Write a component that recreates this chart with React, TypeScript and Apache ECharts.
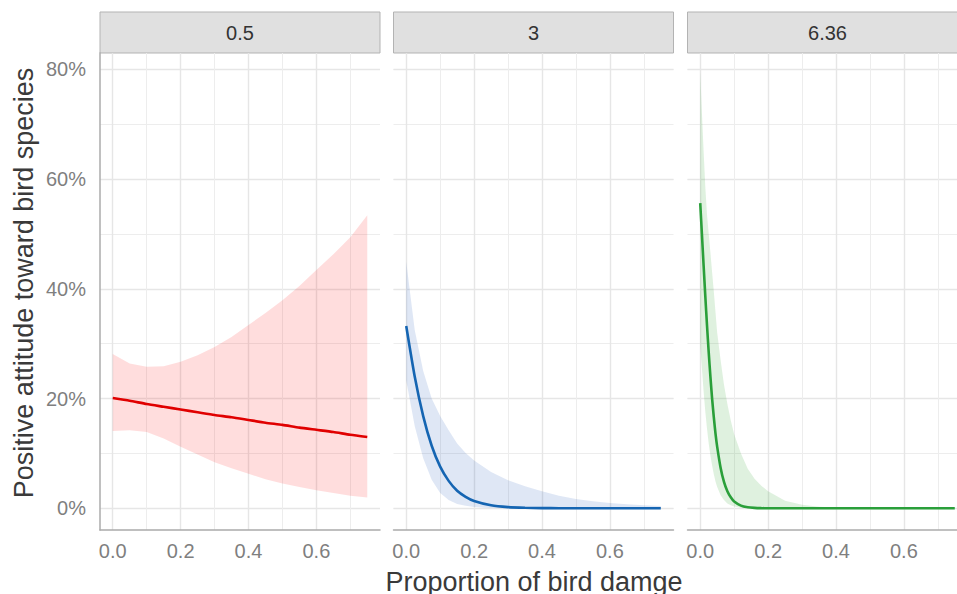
import React, { useEffect, useRef } from 'react';
import * as echarts from 'echarts';

// ---- data ----
const facetLabels = ['0.5', '3', '6.36'];
const xTickLabels = ['0.0', '0.2', '0.4', '0.6'];
const yTickLabels = ['0%', '20%', '40%', '60%', '80%'];

// panel "0.5"
const x1 = [0, 0.05, 0.1, 0.15, 0.2, 0.25, 0.3, 0.35, 0.4, 0.45, 0.5, 0.55, 0.6, 0.65, 0.7, 0.75];
const mean1 = [0.201, 0.196, 0.19, 0.185, 0.18, 0.175, 0.17, 0.166, 0.161, 0.156, 0.152, 0.147, 0.143, 0.139, 0.134, 0.13];
const lower1 = [0.141, 0.142, 0.139, 0.127, 0.112, 0.098, 0.084, 0.073, 0.063, 0.053, 0.045, 0.039, 0.033, 0.028, 0.023, 0.0195];
const upper1 = [0.281, 0.264, 0.258, 0.259, 0.267, 0.279, 0.294, 0.312, 0.334, 0.356, 0.379, 0.405, 0.434, 0.463, 0.494, 0.534];

// panel "3"
const x2 = [0, 0.025, 0.05, 0.075, 0.1, 0.125, 0.15, 0.175, 0.2, 0.25, 0.3, 0.35, 0.4, 0.45, 0.5, 0.55, 0.6, 0.65, 0.7, 0.75];
const mean2 = [0.332, 0.24, 0.168, 0.114, 0.076, 0.05, 0.032, 0.021, 0.0134, 0.0055, 0.0022, 0.0009, 0.0004, 0.00015, 0, 0, 0, 0, 0, 0];
const lower2 = [0.233, 0.15, 0.091, 0.052, 0.028, 0.015, 0.008, 0.0045, 0.0025, 0.0007, 0.0002, 0, 0, 0, 0, 0, 0, 0, 0, 0];
const upper2 = [0.449, 0.325, 0.25, 0.2, 0.168, 0.142, 0.118, 0.101, 0.087, 0.066, 0.051, 0.04, 0.031, 0.023, 0.017, 0.013, 0.0095, 0.0072, 0.0055, 0.004];

// panel "6.36"
const x3 = [0, 0.005, 0.01, 0.015, 0.02, 0.025, 0.03, 0.035, 0.04, 0.045, 0.05, 0.06, 0.07, 0.08, 0.09, 0.1, 0.12, 0.14, 0.16, 0.18, 0.2, 0.25, 0.3, 0.35, 0.4, 0.5, 0.6, 0.75];
const mean3 = [0.556, 0.499, 0.442, 0.386, 0.333, 0.284, 0.24, 0.2, 0.166, 0.136, 0.112, 0.074, 0.048, 0.031, 0.02, 0.0124, 0.005, 0.002, 0.0008, 0.0003, 0.0001, 0, 0, 0, 0, 0, 0, 0];
const lower3 = [0.3, 0.255, 0.213, 0.176, 0.145, 0.118, 0.096, 0.078, 0.062, 0.049, 0.039, 0.024, 0.015, 0.009, 0.0055, 0.0033, 0.0012, 0.0004, 0.0001, 0, 0, 0, 0, 0, 0, 0, 0, 0];
const upper3 = [0.795, 0.72, 0.65, 0.585, 0.535, 0.5, 0.466, 0.43, 0.395, 0.357, 0.32, 0.27, 0.225, 0.19, 0.16, 0.135, 0.1, 0.072, 0.054, 0.041, 0.031, 0.014, 0.0065, 0.003, 0.0015, 0.0004, 0.0001, 0];

const panels = [
  { x: x1, mean: mean1, lower: lower1, upper: upper1, line: '#E00000', band: 'rgba(255,0,0,0.135)' },
  { x: x2, mean: mean2, lower: lower2, upper: upper2, line: '#1565B2', band: 'rgba(40,95,190,0.15)' },
  { x: x3, mean: mean3, lower: lower3, upper: upper3, line: '#2A9F3A', band: 'rgba(40,160,40,0.15)' },
];

// ---- layout ----
const PANEL_LEFT = [100, 393.5, 687.5];
const PANEL_W = 280;
const PANEL_TOP = 53;
const PANEL_H = 477;
const X_MIN = -0.0375;
const X_MAX = 0.7875;
const Y_MIN = -0.0395;
const Y_MAX = 0.8295;
const FONT = '"Liberation Sans", Arial, sans-serif';

const isMult = (v: number, step: number) => Math.abs(v / step - Math.round(v / step)) < 1e-6;

export default function App() {
  const ref = useRef<HTMLDivElement>(null);
  useEffect(() => {
    if (!ref.current) return;
    const chart = echarts.init(ref.current, undefined, { renderer: 'svg' });

    const grid: any[] = [];
    const xAxis: any[] = [];
    const yAxis: any[] = [];
    const series: any[] = [];
    const graphic: any[] = [];

    PANEL_LEFT.forEach((left, i) => {
      grid.push({ left, top: PANEL_TOP, width: PANEL_W, height: PANEL_H });
      // minor x grid
      xAxis.push({
        type: 'value', gridIndex: i, position: 'bottom', min: X_MIN, max: X_MAX, minInterval: 0.1, maxInterval: 0.1,
        axisLine: { show: false }, axisTick: { show: false }, axisLabel: { show: false },
        splitLine: { show: true, showMinLine: false, showMaxLine: false, lineStyle: { color: '#EDEDED', width: 1 } },
      });
      // major x
      xAxis.push({
        type: 'value', gridIndex: i, position: 'bottom', min: X_MIN, max: X_MAX, minInterval: 0.2, maxInterval: 0.2,
        axisLine: { show: true, onZero: false, lineStyle: { color: '#ABABAB', width: 1.5 } },
        axisTick: { show: false },
        axisLabel: {
          show: true, margin: 11, color: '#7F7F7F', fontSize: 20, fontFamily: FONT,
          formatter: (v: number) => (v >= -1e-9 && isMult(v, 0.2) ? xTickLabels[Math.round(v / 0.2)] ?? '' : ''),
        },
        splitLine: { show: true, showMinLine: false, showMaxLine: false, lineStyle: { color: '#E6E6E6', width: 1.4 } },
      });
      yAxis.push({
        type: 'value', gridIndex: i, position: 'left', min: Y_MIN, max: Y_MAX, minInterval: 0.1, maxInterval: 0.1,
        axisLine: { show: false }, axisTick: { show: false }, axisLabel: { show: false },
        splitLine: { show: true, showMinLine: false, showMaxLine: false, lineStyle: { color: '#EDEDED', width: 1 } },
      });
      yAxis.push({
        type: 'value', gridIndex: i, position: 'left', min: Y_MIN, max: Y_MAX, minInterval: 0.2, maxInterval: 0.2,
        axisLine: { show: i === 0, onZero: false, lineStyle: { color: '#ABABAB', width: 1.5 } },
        axisTick: { show: false },
        axisLabel: {
          show: i === 0, margin: 14, color: '#7F7F7F', fontSize: 20, fontFamily: FONT,
          formatter: (v: number) => (v >= -1e-9 && isMult(v, 0.2) ? yTickLabels[Math.round(v / 0.2)] ?? '' : ''),
        },
        splitLine: { show: true, showMinLine: false, showMaxLine: false, lineStyle: { color: '#E6E6E6', width: 1.4 } },
      });

      const p = panels[i];
      const xi = 2 * i + 1;
      const n = p.x.length;
      series.push({
        type: 'custom', xAxisIndex: xi, yAxisIndex: xi, silent: true, z: 2, clip: true,
        data: p.x.map((v, k) => [v, p.lower[k], p.upper[k]]),
        encode: { x: 0, y: [1, 2] },
        renderItem: (params: any, api: any) => {
          if (params.dataIndex !== 0) return null;
          const pts: number[][] = [];
          for (let k = 0; k < n; k++) pts.push(api.coord([p.x[k], p.upper[k]]));
          for (let k = n - 1; k >= 0; k--) pts.push(api.coord([p.x[k], p.lower[k]]));
          return { type: 'polygon', shape: { points: pts }, style: { fill: p.band } };
        },
      });
      series.push({
        type: 'line', xAxisIndex: xi, yAxisIndex: xi, symbol: 'none', silent: true,
        smooth: 0.2,
        lineStyle: { color: p.line, width: 2.6 }, data: p.x.map((v, k) => [v, p.mean[k]]), z: 3,
      });

      graphic.push({
        type: 'rect', shape: { x: left, y: 12, width: PANEL_W, height: 41 },
        style: { fill: '#E0E0E0', stroke: '#B3B3B3', lineWidth: 1 },
      });
      graphic.push({
        type: 'text', x: left + PANEL_W / 2, y: 33.3,
        style: { text: facetLabels[i], fill: '#333333', fontSize: 20, fontFamily: FONT, align: 'center', verticalAlign: 'middle' },
      });
    });

    graphic.push({
      type: 'text', x: 23.5, y: 283, rotation: Math.PI / 2,
      style: { text: 'Positive attitude toward bird species', fill: '#3A3A3A', fontSize: 27, fontFamily: FONT, align: 'center', verticalAlign: 'middle' },
    });
    graphic.push({
      type: 'text', x: 534, y: 582,
      style: { text: 'Proportion of bird damge', fill: '#3A3A3A', fontSize: 27, fontFamily: FONT, align: 'center', verticalAlign: 'middle' },
    });

    chart.setOption({
      animation: false,
      backgroundColor: '#FFFFFF',
      grid, xAxis, yAxis, series, graphic,
    });
    return () => chart.dispose();
  }, []);

  return (
    <div style={{ position: 'absolute', left: 0, top: 0, width: 957, height: 594, overflow: 'hidden' }}>
      <div ref={ref} style={{ width: 980, height: 594 }} />
    </div>
  );
}
